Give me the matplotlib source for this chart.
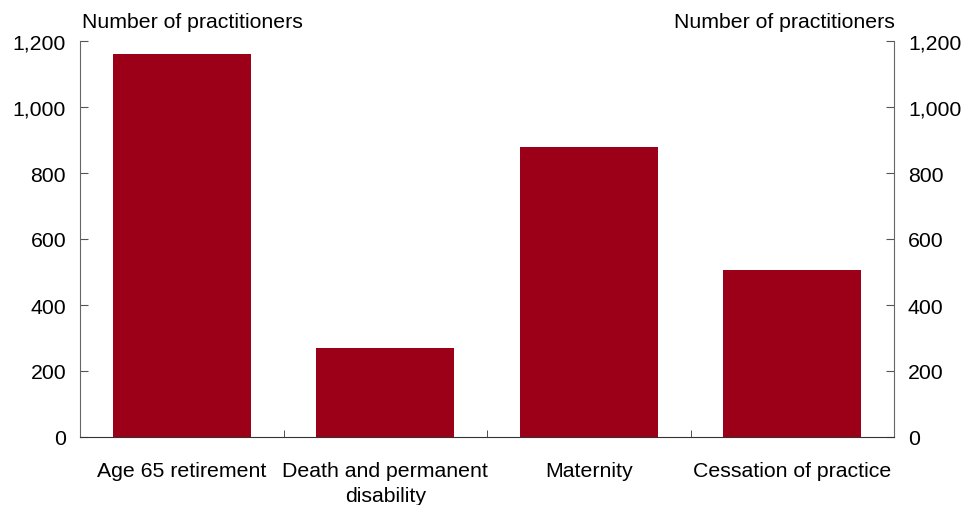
import numpy as np
import matplotlib.pyplot as plt
from matplotlib.ticker import FuncFormatter

categories = ["Age 65 retirement", "Death and permanent\ndisability", "Maternity", "Cessation of practice"]
practitioners = [1160, 270, 878, 506]
y_ticks = [0, 200, 400, 600, 800, 1000, 1200]

plt.rcParams['font.family'] = ['Liberation Sans', 'DejaVu Sans']
fs = 15.3

fig = plt.figure(figsize=(9.64, 5.06), dpi=100)
ax = fig.add_axes([80/964, 68/506, 814/964, 396/506])

x = np.arange(len(categories)) + 0.5
ax.bar(x, practitioners, width=0.68, color="#9c0018")

ax.set_xlim(0, len(categories))
ax.set_ylim(0, 1200)
ax.set_yticks(y_ticks)
ax.yaxis.set_major_formatter(FuncFormatter(lambda v, p: f"{int(v):,}"))
ax.set_xticks(x)
ax.set_xticklabels(categories, fontsize=fs, linespacing=1.45)
ax.set_xticks(np.arange(1, len(categories)), minor=True)
ax.tick_params(axis="x", which="major", length=0, pad=17)
ax.tick_params(axis="x", which="minor", direction="in", length=5, color="#333333")
ax.tick_params(axis="y", direction="in", length=6, labelsize=fs, pad=10,
               left=True, right=True, labelleft=True, labelright=True, color="#555555")

ax.spines["top"].set_visible(False)
for s in ("left", "right"):
    ax.spines[s].set_color("#666666")
ax.spines["bottom"].set_color("#333333")

fig.text(82/964, 1 - 22/506, "Number of practitioners", fontsize=fs, ha="left", va="center")
fig.text(895/964, 1 - 22/506, "Number of practitioners", fontsize=fs, ha="right", va="center")

fig.savefig("out.png", dpi=100)
